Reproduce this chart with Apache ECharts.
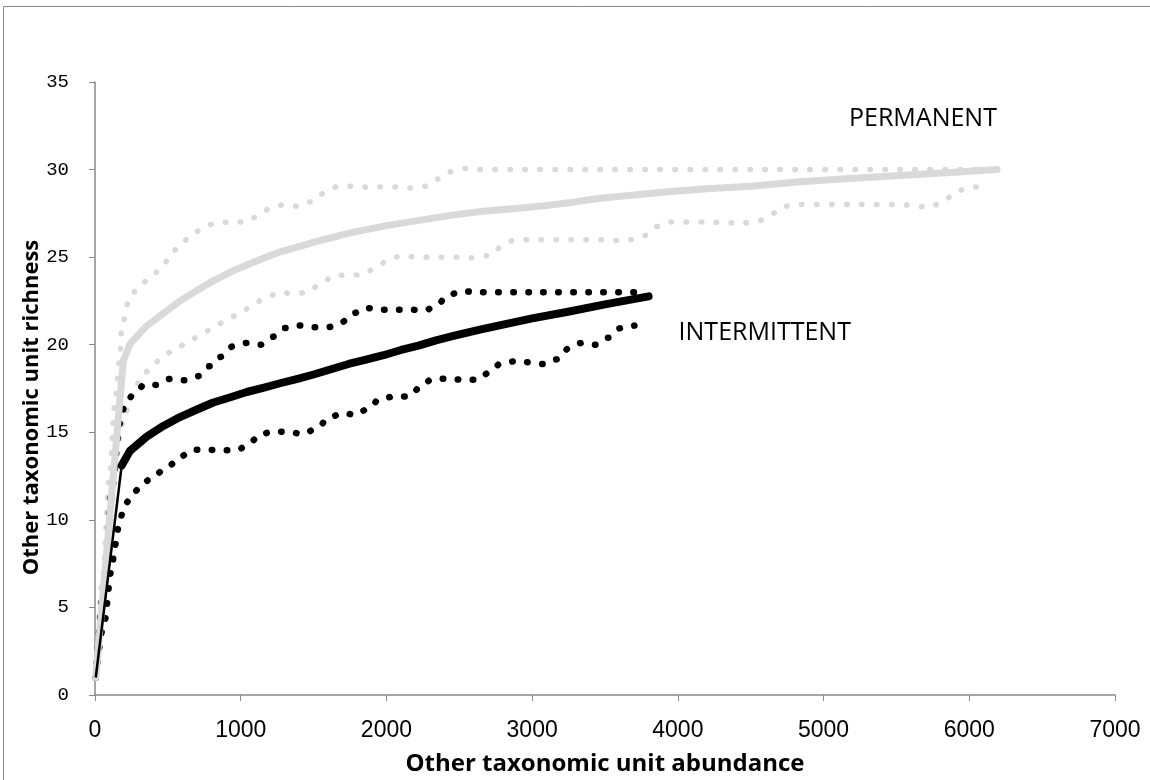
<!DOCTYPE html>
<html><head><meta charset="utf-8">
<script src="https://cdn.jsdelivr.net/npm/echarts@6/dist/echarts.min.js"></script>
<style>html,body{margin:0;padding:0;background:#fff}#c{width:1150px;height:780px}</style>
</head><body><div id="c"></div>
<script>
// ---- data: [abundance, richness] ----
const permMean = [[5,1],[194,19.05],[240,20.05],[355,21.07],[470,21.8],[583,22.5],[700,23.1],[812,23.65],[930,24.15],[1041,24.55],[1160,24.95],[1270,25.3],[1400,25.6],[1520,25.9],[1640,26.15],[1760,26.4],[1880,26.6],[2000,26.8],[2150,27.0],[2300,27.2],[2450,27.4],[2642,27.6],[2850,27.75],[3050,27.9],[3250,28.1],[3450,28.35],[3700,28.55],[3950,28.75],[4200,28.9],[4500,29.05],[4838,29.3],[5200,29.5],[5525,29.66],[5900,29.85],[6190,30.0]];
const permUpper = [[5,1],[50,6.5],[100,12.5],[140,17],[172,19.4],[183,21.07],[240,22.7],[297,23.3],[377,23.8],[458,24.4],[515,25.07],[583,25.7],[664,26.26],[743,26.7],[835,26.98],[938,27.0],[1041,27.0],[1121,27.38],[1213,27.85],[1304,28.0],[1396,27.9],[1498,28.2],[1579,28.7],[1670,29.05],[1773,29.05],[1865,29.0],[1968,29.0],[2071,29.0],[2173,28.95],[2276,29.05],[2356,29.46],[2437,29.87],[2551,30.07],[2642,30.0],[3500,30.0],[4500,30.0],[5525,30.0],[6190,30.0]];
const permLower = [[5,1],[60,5.5],[110,10.5],[160,14.5],[206,16.1],[275,17.6],[332,18.3],[400,18.9],[480,19.45],[568,19.85],[652,20.25],[743,20.66],[824,21.07],[915,21.47],[1007,21.88],[1087,22.3],[1171,22.7],[1270,23.0],[1366,22.9],[1464,23.0],[1551,23.5],[1642,23.96],[1739,23.96],[1837,24.0],[1922,24.36],[2013,24.84],[2105,25.1],[2208,25.0],[2300,25.0],[2402,25.0],[2505,25.0],[2608,24.95],[2711,25.1],[2791,25.6],[2883,26.0],[2974,26.0],[3200,26.0],[3478,26.0],[3592,25.95],[3684,26.0],[3775,26.24],[3855,26.75],[3947,27.0],[4200,27.0],[4450,26.95],[4553,27.06],[4644,27.47],[4724,27.9],[4827,28.0],[5200,28.0],[5525,28.0],[5731,27.85],[5827,28.2],[5903,28.7],[5994,29.0],[6093,29.0]];
const intMean = [[5,1],[183,13.1],[240,13.94],[355,14.75],[469,15.36],[583,15.87],[700,16.3],[812,16.7],[930,17.0],[1041,17.3],[1160,17.55],[1270,17.8],[1390,18.05],[1500,18.3],[1620,18.6],[1740,18.9],[1860,19.15],[1980,19.4],[2100,19.7],[2220,19.95],[2340,20.25],[2460,20.5],[2642,20.86],[2800,21.15],[3000,21.5],[3237,21.87],[3500,22.3],[3799,22.76]];
const intUpper = [[5,1],[60,6],[120,12],[170,15.5],[206,16.6],[263,17.15],[343,17.74],[423,17.7],[515,18.05],[613,17.97],[705,18.2],[785,18.77],[858,19.3],[945,19.9],[1041,20.1],[1137,20.0],[1219,20.45],[1304,20.96],[1396,21.1],[1498,21.0],[1601,21.0],[1693,21.28],[1768,21.78],[1857,22.1],[1950,22.0],[2060,22.0],[2163,22.0],[2265,21.95],[2350,22.3],[2425,22.84],[2520,23.06],[2620,23.0],[3000,23.0],[3400,23.0],[3729,23.0]];
const intLower = [[5,1],[60,4],[115,7.2],[137,8.55],[172,10.06],[206,10.9],[268,11.6],[338,12.15],[423,12.65],[510,13.1],[583,13.6],[675,14.0],[771,14.0],[870,13.98],[977,13.98],[1059,14.38],[1137,14.9],[1235,15.06],[1334,15.0],[1430,14.9],[1528,15.26],[1601,15.8],[1697,16.1],[1791,16.0],[1883,16.4],[1952,16.9],[2059,17.05],[2157,17.05],[2235,17.6],[2315,18.05],[2413,18.05],[2517,18.0],[2620,18.0],[2704,18.4],[2780,18.9],[2876,19.05],[2974,19.0],[3082,18.9],[3176,19.17],[3251,19.8],[3340,20.1],[3437,20.0],[3521,20.4],[3608,20.95],[3702,21.09]];
const labels = {perm: 'PERMANENT', int: 'INTERMITTENT'};
const xTitle = 'Other taxonomic unit abundance';
const yTitle = 'Other taxonomic unit richness';

const GRAY = '#d9d9d9';
const chart = echarts.init(document.getElementById('c'), null, {renderer: 'canvas'});
const dotted = (name, data, color, w) => ({
  type: 'line', name, data, showSymbol: false, symbol: 'none', smooth: 0.3, smoothMonotone: 'x',
  lineStyle: {color, width: w, type: [0.5, 14.5], cap: 'round'}, z: 2, silent: true
});
chart.setOption({
  animation: false,
  backgroundColor: '#fff',
  grid: {left: 95, right: 35, top: 82, bottom: 85, containLabel: false, outerBoundsMode: 'none'},
  xAxis: {
    type: 'value', min: 0, max: 7000, interval: 1000,
    name: xTitle, nameLocation: 'middle', nameGap: 57, nameMoveOverlap: false,
    nameTextStyle: {fontFamily: 'Open Sans', fontWeight: 'bold', fontSize: 24, color: '#000'},
    axisLine: {lineStyle: {color: '#888', width: 1.5}},
    axisTick: {show: true, length: 6, lineStyle: {color: '#888'}},
    axisLabel: {fontFamily: 'Liberation Sans Narrow, Liberation Sans', fontSize: 23, color: '#000', margin: 24,
      formatter: v => String(v)},
    splitLine: {show: false}
  },
  yAxis: {
    type: 'value', min: 0, max: 35, interval: 5,
    name: yTitle, nameLocation: 'middle', nameGap: 52, nameRotate: 90, nameMoveOverlap: false,
    nameTextStyle: {fontFamily: 'Open Sans', fontWeight: 'bold', fontSize: 22, color: '#000', padding: [0, 38, 0, 0]},
    axisLine: {show: true, lineStyle: {color: '#888', width: 1.5}},
    axisTick: {show: true, length: 6, lineStyle: {color: '#888'}},
    axisLabel: {fontFamily: 'Liberation Mono', fontSize: 19, color: '#000', margin: 26},
    splitLine: {show: false}
  },
  graphic: [{type: 'rect', shape: {x: 3.5, y: 6.5, width: 1200, height: 900}, style: {fill: 'none', stroke: '#888', lineWidth: 1}, silent: true}],
  series: [
    dotted('perm upper', permUpper, GRAY, 5.5),
    dotted('perm lower', permLower, GRAY, 5.5),
    {type: 'line', name: 'perm', data: permMean, showSymbol: false, symbol: 'none', smooth: false,
     lineStyle: {color: GRAY, width: 7, cap: 'round', join: 'round'}, z: 3,
     endLabel: {show: true, formatter: labels.perm, distance: 0, offset: [-148, -51],
       fontFamily: 'Open Sans', fontSize: 25, color: '#000'}},
    dotted('int upper', intUpper, '#000', 6.5),
    dotted('int lower', intLower, '#000', 6.5),
    {type: 'line', name: 'int start', data: intMean.slice(0, 2), showSymbol: false, symbol: 'none',
     lineStyle: {color: '#000', width: 2.5}, z: 4},
    {type: 'line', name: 'int', data: intMean.slice(1), showSymbol: false, symbol: 'none', smooth: false,
     lineStyle: {color: '#000', width: 8, cap: 'round', join: 'round'}, z: 4,
     endLabel: {show: true, formatter: labels.int, distance: 0, offset: [30, 37],
       fontFamily: 'Open Sans', fontSize: 25, color: '#000'}}
  ]
});
</script></body></html>
